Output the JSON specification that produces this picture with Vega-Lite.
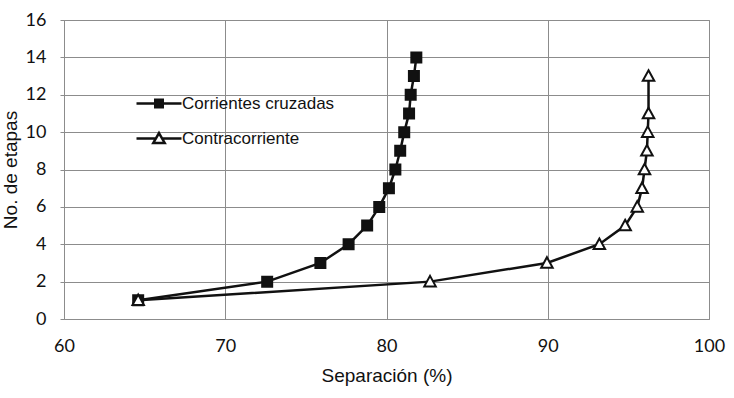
{
  "$schema": "https://vega.github.io/schema/vega-lite/v6.json",
  "width": 645,
  "height": 299,
  "autosize": {"type": "none"},
  "padding": {"left": 64, "top": 20, "right": 25, "bottom": 79},
  "background": "white",
  "config": {
    "view": {"stroke": "#8c8c8c", "strokeWidth": 1},
    "axis": {
      "gridColor": "#8c8c8c",
      "gridOpacity": 1,
      "gridWidth": 1,
      "domain": false,
      "labelFont": "Lato",
      "labelFontSize": 18,
      "labelColor": "#111",
      "labelFlush": false,
      "titleFont": "Liberation Sans",
      "titleFontSize": 19,
      "titleFontWeight": "normal",
      "titleColor": "#111"
    },
    "legend": {
      "symbolStrokeWidth": 2.5,
      "symbolSize": 900
    }
  },
  "data": {
    "values": [
      {"serie": "Corrientes cruzadas", "etapas": 1, "separacion": 64.6},
      {"serie": "Corrientes cruzadas", "etapas": 2, "separacion": 72.6},
      {"serie": "Corrientes cruzadas", "etapas": 3, "separacion": 75.9},
      {"serie": "Corrientes cruzadas", "etapas": 4, "separacion": 77.65},
      {"serie": "Corrientes cruzadas", "etapas": 5, "separacion": 78.8},
      {"serie": "Corrientes cruzadas", "etapas": 6, "separacion": 79.55},
      {"serie": "Corrientes cruzadas", "etapas": 7, "separacion": 80.15},
      {"serie": "Corrientes cruzadas", "etapas": 8, "separacion": 80.55},
      {"serie": "Corrientes cruzadas", "etapas": 9, "separacion": 80.85},
      {"serie": "Corrientes cruzadas", "etapas": 10, "separacion": 81.1},
      {"serie": "Corrientes cruzadas", "etapas": 11, "separacion": 81.4},
      {"serie": "Corrientes cruzadas", "etapas": 12, "separacion": 81.5},
      {"serie": "Corrientes cruzadas", "etapas": 13, "separacion": 81.7},
      {"serie": "Corrientes cruzadas", "etapas": 14, "separacion": 81.85},
      {"serie": "Contracorriente", "etapas": 1, "separacion": 64.6},
      {"serie": "Contracorriente", "etapas": 2, "separacion": 82.7},
      {"serie": "Contracorriente", "etapas": 3, "separacion": 89.95},
      {"serie": "Contracorriente", "etapas": 4, "separacion": 93.2},
      {"serie": "Contracorriente", "etapas": 5, "separacion": 94.8},
      {"serie": "Contracorriente", "etapas": 6, "separacion": 95.55},
      {"serie": "Contracorriente", "etapas": 7, "separacion": 95.85},
      {"serie": "Contracorriente", "etapas": 8, "separacion": 96.0},
      {"serie": "Contracorriente", "etapas": 9, "separacion": 96.15},
      {"serie": "Contracorriente", "etapas": 10, "separacion": 96.2},
      {"serie": "Contracorriente", "etapas": 11, "separacion": 96.25},
      {"serie": "Contracorriente", "etapas": 13, "separacion": 96.25}
    ]
  },
  "encoding": {
    "x": {
      "field": "separacion",
      "type": "quantitative",
      "scale": {"domain": [60, 100], "nice": false, "zero": false},
      "axis": {
        "title": "Separación (%)",
        "values": [60, 70, 80, 90, 100],
        "ticks": false,
        "labelPadding": 18,
        "titlePadding": 11
      }
    },
    "y": {
      "field": "etapas",
      "type": "quantitative",
      "scale": {"domain": [0, 16], "nice": false},
      "axis": {
        "title": "No. de etapas",
        "values": [0, 2, 4, 6, 8, 10, 12, 14, 16],
        "ticks": true,
        "tickSize": 4,
        "tickColor": "#8c8c8c",
        "labelPadding": 14,
        "titlePadding": 5
      }
    }
  },
  "layer": [
    {
      "mark": {"type": "line", "color": "#111", "strokeWidth": 2.5},
      "encoding": {
        "detail": {"field": "serie", "type": "nominal"},
        "order": {"field": "etapas", "type": "quantitative"}
      }
    },
    {
      "mark": {"type": "point", "filled": true, "size": 100, "stroke": "#111", "strokeWidth": 2, "opacity": 1},
      "encoding": {
        "shape": {
          "field": "serie",
          "type": "nominal",
          "scale": {"domain": ["Corrientes cruzadas", "Contracorriente"], "range": ["M-1,-1H1V1H-1Z", "M0,-1.15L1.15,0.95H-1.15Z"]},
          "legend": null
        },
        "fill": {
          "field": "serie",
          "type": "nominal",
          "scale": {"domain": ["Corrientes cruzadas", "Contracorriente"], "range": ["#111", "white"]},
          "legend": null
        }
      }
    },
    {
      "transform": [{"filter": "datum.etapas > 100"}],
      "mark": {"type": "point", "filled": false, "color": "#111", "strokeWidth": 2.5, "opacity": 1},
      "encoding": {
        "shape": {
          "field": "serie",
          "type": "nominal",
          "scale": {
            "domain": ["Corrientes cruzadas", "Contracorriente"],
            "range": [
              "M-1.5,0H1.5M-0.25,-0.25H0.25V0.25H-0.25ZM-0.25,-0.125H0.25M-0.25,0.125H0.25",
              "M-1.5,0H-0.21M0.21,0H1.5M0,-0.36L0.38,0.3H-0.38Z"
            ]
          },
          "legend": {
            "title": null,
            "orient": "none",
            "legendX": 78.5,
            "legendY": 67,
            "padding": 0,
            "symbolSize": 900,
            "symbolStrokeWidth": 2.5,
            "symbolStrokeColor": "#111",
            "labelFont": "Liberation Sans",
            "labelFontSize": 17,
            "labelColor": "#111",
            "labelOffset": 6.5,
            "rowPadding": 9
          }
        }
      }
    }
  ],
  "resolve": {"scale": {"shape": "independent"}}
}
